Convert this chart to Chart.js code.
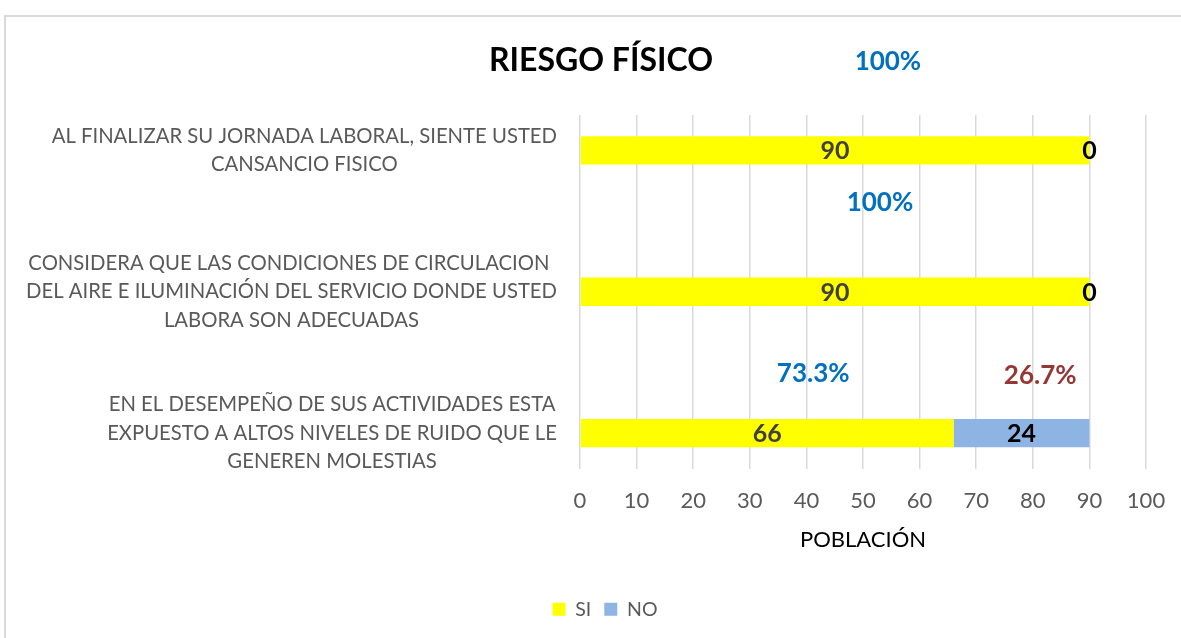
<!DOCTYPE html>
<html>
<head>
<meta charset="utf-8">
<title>Riesgo físico</title>
<script src="https://cdn.jsdelivr.net/npm/chart.js@4.4.1/dist/chart.umd.min.js"></script>
<style>
  html, body { margin: 0; padding: 0; background: #fff; overflow: hidden; }
  #frame { position: absolute; left: 4px; top: 15px; width: 1300px; height: 800px; border: 2px solid #d9d9d9; }
  #wrap { position: absolute; left: 0; top: 0; width: 1181px; height: 638px; }
</style>
</head>
<body>
<div id="frame"></div>
<div id="wrap"><canvas id="riesgoChart" width="1181" height="638"></canvas></div>
<script>
    // Datos
    var chartTitle = 'RIESGO FÍSICO';
    var categories = [
        ['AL FINALIZAR SU JORNADA LABORAL, SIENTE USTED', 'CANSANCIO FISICO'],
        ['CONSIDERA QUE LAS CONDICIONES DE CIRCULACION ', 'DEL AIRE E ILUMINACIÓN DEL SERVICIO DONDE USTED', 'LABORA SON ADECUADAS'],
        ['EN EL DESEMPEÑO DE SUS ACTIVIDADES ESTA', 'EXPUESTO A ALTOS NIVELES DE RUIDO QUE LE', 'GENEREN MOLESTIAS']
    ];
    var siValues = [90, 90, 66];
    var noValues = [0, 0, 24];
    var xTicks = [0, 10, 20, 30, 40, 50, 60, 70, 80, 90, 100];

    // Where the percentage boxes sit (value on x, pixel offset above the bar)
    var pctPlacement = [
        { cat: 0, series: 0, x: 54.4, dy: -89 },
        { cat: 1, series: 0, x: 53.0, dy: -89 },
        { cat: 2, series: 0, x: 41.2, dy: -60 },
        { cat: 2, series: 1, x: 81.3, dy: -58 }
    ];
    var pctColors = ['#0070C0', '#953735'];

    // Excel leaves an empty row between each question
    var labels = [], siData = [], noData = [];
    categories.forEach(function(c, i) {
        if (i > 0) { labels.push([]); siData.push(null); noData.push(null); }
        labels.push(c);
        siData.push(siValues[i]);
        noData.push(noValues[i]);
    });
    function rowIndex(cat) { return cat * 2; }

    var FONT = 'Lato';
    Chart.defaults.font.family = FONT;

    var drawTexts = {
        id: 'drawTexts',
        afterDatasetsDraw: function(chart) {
            var ctx = chart.ctx;
            var xs = chart.scales.x, ys = chart.scales.y;
            ctx.save();
            ctx.textAlign = 'center';
            ctx.textBaseline = 'middle';

            // Title
            ctx.font = 'bold 32px ' + FONT;
            ctx.fillStyle = '#000';
            ctx.fillText(chartTitle, 601, 61);

            // Category labels: block right aligned, lines centred inside it
            ctx.font = '20.3px ' + FONT;
            ctx.fillStyle = '#595959';
            var right = chart.chartArea.left - 23;
            labels.forEach(function(lines, i) {
                if (!lines.length) return;
                var w = Math.max.apply(null, lines.map(function(l) { return ctx.measureText(l).width; }));
                var cx = right - w / 2;
                var cy = ys.getPixelForValue(i);
                lines.forEach(function(l, j) {
                    ctx.fillText(l, cx, cy + (j - (lines.length - 1) / 2) * 28.5);
                });
            });

            // Values on the bars
            ctx.font = 'bold 25px ' + FONT;
            chart.data.datasets.forEach(function(ds, d) {
                var meta = chart.getDatasetMeta(d);
                ctx.fillStyle = d === 0 ? '#404040' : '#000';
                meta.data.forEach(function(bar, i) {
                    if (ds.data[i] === null) return;
                    var p = bar.getCenterPoint();
                    ctx.fillText(String(ds.data[i]), p.x, p.y + 1);
                });
            });

            // Percentages
            ctx.font = 'bold 26px ' + FONT;
            pctPlacement.forEach(function(p) {
                var vals = p.series === 0 ? siValues : noValues;
                var total = siValues[p.cat] + noValues[p.cat];
                var txt = parseFloat((vals[p.cat] / total * 100).toFixed(1)) + '%';
                ctx.fillStyle = pctColors[p.series];
                ctx.fillText(txt, xs.getPixelForValue(p.x), ys.getPixelForValue(rowIndex(p.cat)) + p.dy);
            });
            ctx.restore();
        }
    };

    var ctx = document.getElementById('riesgoChart').getContext('2d');
    var riesgoChart = new Chart(ctx, {
        type: 'bar',
        data: {
            labels: labels,
            datasets: [{
                label: 'SI',
                data: siData,
                backgroundColor: '#FFFF00',
                borderWidth: 0
            }, {
                label: 'NO',
                data: noData,
                backgroundColor: '#8EB4E3',
                borderWidth: 0
            }]
        },
        options: {
            indexAxis: 'y',
            responsive: false,
            animation: false,
            events: [],
            categoryPercentage: 1,
            barPercentage: 0.4,
            layout: { padding: { top: 115, left: 64, right: 35, bottom: 9 } },
            scales: {
                x: {
                    stacked: true,
                    min: 0,
                    max: 100,
                    afterBuildTicks: function(s) { s.ticks = xTicks.map(function(v) { return { value: v }; }); },
                    ticks: { color: '#595959', font: { size: 22 }, padding: 2 },
                    grid: { color: '#d9d9d9', lineWidth: 1.5, tickLength: 17, tickColor: 'rgba(0,0,0,0)' },
                    border: { display: false },
                    title: {
                        display: true,
                        text: 'POBLACIÓN',
                        color: '#000',
                        font: { size: 22 },
                        padding: { top: 0, bottom: 33 }
                    },
                    afterFit: function(s) { s.height = 118; }
                },
                y: {
                    stacked: true,
                    ticks: { display: false },
                    grid: { display: false },
                    border: { display: false },
                    afterFit: function(s) { s.width = 516; }
                }
            },
            plugins: {
                title: { display: false },
                tooltip: { enabled: false },
                legend: {
                    position: 'bottom',
                    labels: {
                        color: '#595959',
                        font: { size: 19.5 },
                        boxWidth: 13,
                        boxHeight: 13,
                        padding: 13
                    }
                }
            }
        },
        plugins: [drawTexts]
    });
</script>
</body>
</html>
